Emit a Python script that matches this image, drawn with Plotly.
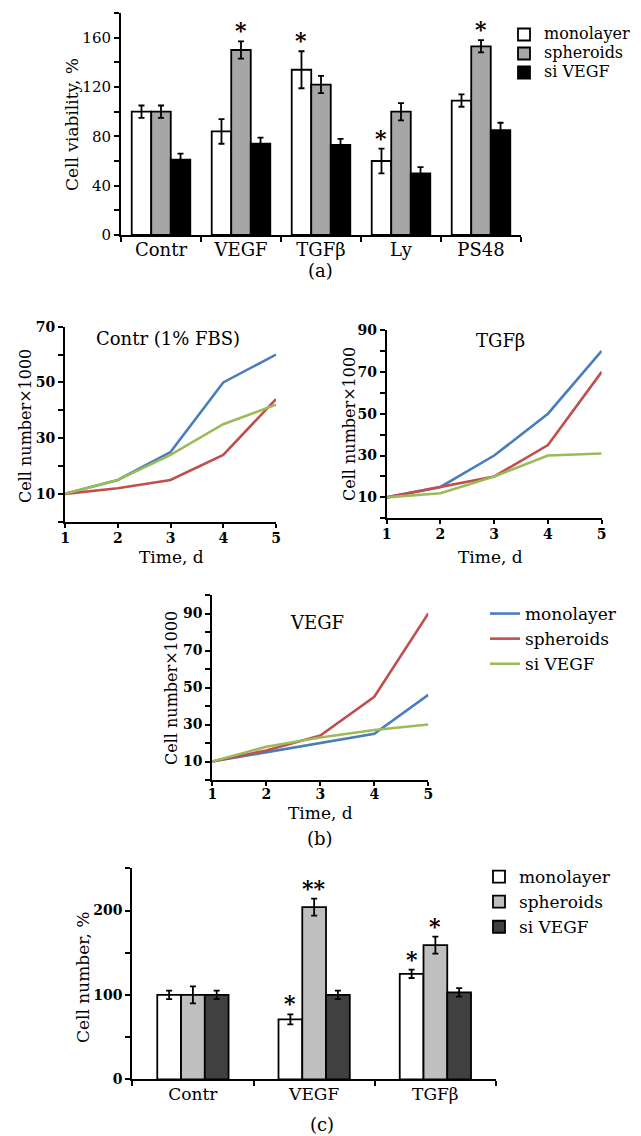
import plotly.graph_objects as go

# page body has an 8px margin: the figure is sized so the reference pixel grid lines up
PAGE_W, PAGE_H, BODY = 641, 1136, 8
W, H = PAGE_W - BODY, PAGE_H - BODY
SERIF = "DejaVu Serif"

# ---------------- data ----------------
series_names = ["monolayer", "spheroids", "si VEGF"]

# panel (a) cell viability, %
cats_a = ["Contr", "VEGF", "TGFβ", "Ly", "PS48"]
a_mono = [100, 84, 134, 60, 109]
a_mono_err = [5, 10, 15, 10, 5]
a_sph = [100, 150, 122, 100, 153]
a_sph_err = [5, 7, 7, 7, 5]
a_si = [61, 74, 73, 50, 85]
a_si_err = [5, 5, 5, 5, 6]
a_mono_star = ["", "", "*", "*", ""]
a_sph_star = ["", "*", "", "", "*"]
a_si_star = ["", "", "", "", ""]
a_yticks = [0, 20, 40, 60, 80, 100, 120, 140, 160, 180]
a_ylabels = ["0", "", "40", "", "80", "", "120", "", "160", ""]

# panel (b) growth curves, cell number x1000
days = [1, 2, 3, 4, 5]
contr_mono = [10, 15, 25, 50, 60]
contr_sph = [10, 12, 15, 24, 44]
contr_si = [10, 15, 24, 35, 42]
tgf_mono = [10, 15, 30, 50, 80]
tgf_sph = [10, 15, 20, 35, 70]
tgf_si = [10, 12, 20, 30, 31]
vegf_mono = [10, 15, 20, 25, 46]
vegf_sph = [10, 16, 24, 45, 90]
vegf_si = [10, 18, 23, 27, 30]

# panel (c) cell number, %
cats_c = ["Contr", "VEGF", "TGFβ"]
c_mono = [100, 71, 125]
c_mono_err = [5, 6, 5]
c_sph = [100, 204, 159]
c_sph_err = [10, 10, 10]
c_si = [100, 100, 103]
c_si_err = [5, 5, 5]
c_mono_star = ["", "*", "*"]
c_sph_star = ["", "**", "*"]
c_si_star = ["", "", ""]
c_yticks = [0, 50, 100, 150, 200, 250]
c_ylabels = ["0", "", "100", "", "200", ""]

# ---------------- styles ----------------
a_colors = ["#ffffff", "#a6a6a6", "#000000"]
c_colors = ["#ffffff", "#bfbfbf", "#404040"]
line_colors = ["#4a7ebb", "#c0504d", "#9bbb59"]


def dx(px):
    return (px - BODY) / W


def dy(py):
    return 1 - (py - BODY) / H


fig = go.Figure()

# ---------- panel (a) bars ----------
wa = 0.244
for i, (vals, errs) in enumerate([(a_mono, a_mono_err), (a_sph, a_sph_err), (a_si, a_si_err)]):
    fig.add_trace(go.Bar(
        x=cats_a, y=vals, width=wa, offset=-1.5 * wa + i * wa,
        name=f'<span style="font-size:16px">{series_names[i]}</span>',
        marker=dict(color=a_colors[i], line=dict(color="black", width=1.8)),
        error_y=dict(type="data", array=errs, color="black", thickness=1.8, width=3),
        xaxis="x", yaxis="y", legend="legend",
    ))
for i, (vals, errs, stars) in enumerate([(a_mono, a_mono_err, a_mono_star),
                                          (a_sph, a_sph_err, a_sph_star),
                                          (a_si, a_si_err, a_si_star)]):
    for k, s in enumerate(stars):
        if s:
            fig.add_annotation(x=k + (i - 1) * wa, y=vals[k] + errs[k], xref="x", yref="y",
                               text=f"<b>{s}</b>", showarrow=False, yanchor="bottom",
                               yshift=-4, font=dict(family=SERIF, size=22, color="black"))

# ---------- panel (b) lines ----------
panels_b = [
    ("x2", "y2", [contr_mono, contr_sph, contr_si], False),
    ("x3", "y3", [tgf_mono, tgf_sph, tgf_si], False),
    ("x4", "y4", [vegf_mono, vegf_sph, vegf_si], True),
]
for xa, ya, series, show in panels_b:
    for i, vals in enumerate(series):
        fig.add_trace(go.Scatter(
            x=days, y=vals, mode="lines", name=series_names[i],
            line=dict(color=line_colors[i], width=2.6),
            xaxis=xa, yaxis=ya, showlegend=show, legend="legend2",
        ))

# ---------- panel (c) bars ----------
wc = 0.196
for i, (vals, errs) in enumerate([(c_mono, c_mono_err), (c_sph, c_sph_err), (c_si, c_si_err)]):
    fig.add_trace(go.Bar(
        x=cats_c, y=vals, width=wc, offset=-1.5 * wc + i * wc,
        name=series_names[i],
        marker=dict(color=c_colors[i], line=dict(color="black", width=1.8)),
        error_y=dict(type="data", array=errs, color="black", thickness=1.8, width=3),
        xaxis="x5", yaxis="y5", legend="legend3",
    ))
for i, (vals, errs, stars) in enumerate([(c_mono, c_mono_err, c_mono_star),
                                          (c_sph, c_sph_err, c_sph_star),
                                          (c_si, c_si_err, c_si_star)]):
    for k, s in enumerate(stars):
        if s:
            fig.add_annotation(x=k + (i - 1) * wc, y=vals[k] + errs[k], xref="x5", yref="y5",
                               text=f"<b>{s}</b>", showarrow=False, yanchor="bottom",
                               yshift=-4, font=dict(family=SERIF, size=22, color="black"))

# ---------------- axes ----------------
base = dict(showline=True, linecolor="black", linewidth=2, ticks="outside", ticklen=5,
            tickwidth=2, tickcolor="black", showgrid=False, zeroline=False, fixedrange=True,
            automargin=False)

layout_axes = {}
# (a)
layout_axes["xaxis"] = dict(base, domain=[dx(121), dx(521)], anchor="y", type="category",
                            tickson="boundaries", ticklabelstandoff=-3,
                            tickfont=dict(family=SERIF, size=18, color="black"))
layout_axes["yaxis"] = dict(base, domain=[dy(235), dy(13)], anchor="x", range=[0, 180],
                            tickvals=a_yticks, ticktext=a_ylabels,
                            tickfont=dict(family=SERIF, size=15, color="black"))
# (b) lines
bold_tick = dict(family=SERIF, size=14, color="black", weight="bold")
line_x = dict(base, range=[1, 5], tickvals=days, tickfont=bold_tick, ticklen=4,
              ticklabelstandoff=-2)
layout_axes["xaxis2"] = dict(line_x, domain=[dx(65), dx(276)], anchor="y2")
layout_axes["yaxis2"] = dict(base, domain=[dy(521.7), dy(326.7)], anchor="x2", range=[0, 70],
                             tickvals=[0, 10, 20, 30, 40, 50, 60, 70],
                             ticktext=["", "10", "", "30", "", "50", "", "70"], tickfont=bold_tick)
layout_axes["xaxis3"] = dict(line_x, domain=[dx(386.7), dx(601.7)], anchor="y3")
layout_axes["yaxis3"] = dict(base, domain=[dy(518.3), dy(330)], anchor="x3", range=[0, 90],
                             tickvals=[0, 10, 20, 30, 40, 50, 60, 70, 80, 90],
                             ticktext=["", "10", "", "30", "", "50", "", "70", "", "90"],
                             tickfont=bold_tick)
layout_axes["xaxis4"] = dict(line_x, domain=[dx(212.3), dx(428.3)], anchor="y4",
                             ticklabelstandoff=-4)
layout_axes["yaxis4"] = dict(base, domain=[dy(780), dy(595)], anchor="x4", range=[0, 100],
                             tickvals=[0, 10, 20, 30, 40, 50, 60, 70, 80, 90, 100],
                             ticktext=["", "10", "", "30", "", "50", "", "70", "", "90", ""],
                             tickfont=bold_tick)
# (c)
layout_axes["xaxis5"] = dict(base, domain=[dx(132.3), dx(496)], anchor="y5", type="category",
                             tickson="boundaries", ticklabelstandoff=-2,
                             tickfont=dict(family=SERIF, size=17, color="black"))
layout_axes["yaxis5"] = dict(base, domain=[dy(1079.3), dy(868.3)], anchor="x5", range=[0, 250],
                             tickvals=c_yticks, ticktext=c_ylabels,
                             tickfont=dict(family=SERIF, size=14, color="black", weight="bold"))

fig.update_layout(**layout_axes)


def txt(text, x, y, size, angle=0, bold=False):
    fig.add_annotation(text=text, x=dx(x), y=dy(y), xref="paper", yref="paper",
                       showarrow=False, textangle=angle, xanchor="center", yanchor="middle",
                       font=dict(family=SERIF, size=size, color="black",
                                 weight="bold" if bold else "normal"))


# axis titles & panel labels
txt("Cell viability, %", 72, 125, 17, -90)
txt("(a)", 320, 270, 18)
txt("Contr (1% FBS)", 168, 338, 18)
txt("TGFβ", 500, 340, 18)
txt("VEGF", 317, 622, 18)
txt("Cell number×1000", 25, 426, 16, -90)
txt("Cell number×1000", 349, 424, 16, -90)
txt("Cell number×1000", 171, 688, 16, -90)
txt("Time, d", 172, 557, 17)
txt("Time, d", 490, 557, 17)
txt("Time, d", 320, 813, 17)
txt("(b)", 320, 838, 18)
txt("Cell number, %", 83, 977, 17, -90)
txt("(c)", 322, 1124, 18)

fig.update_layout(
    template="none",
    width=W, height=H, margin=dict(l=0, r=0, t=0, b=0, autoexpand=False),
    paper_bgcolor="white", plot_bgcolor="white", barmode="overlay", showlegend=True,
    legend=dict(x=dx(504), y=dy(20), xanchor="left", yanchor="top", bgcolor="rgba(0,0,0,0)",
                font=dict(family=SERIF, size=12, color="black"), tracegroupgap=0),
    legend2=dict(x=dx(485), y=dy(596), xanchor="left", yanchor="top", bgcolor="rgba(0,0,0,0)",
                 font=dict(family=SERIF, size=17, color="black"), tracegroupgap=0),
    legend3=dict(x=dx(479), y=dy(859), xanchor="left", yanchor="top", bgcolor="rgba(0,0,0,0)",
                 font=dict(family=SERIF, size=17, color="black"), tracegroupgap=0),
)

fig.write_html("out.html")
